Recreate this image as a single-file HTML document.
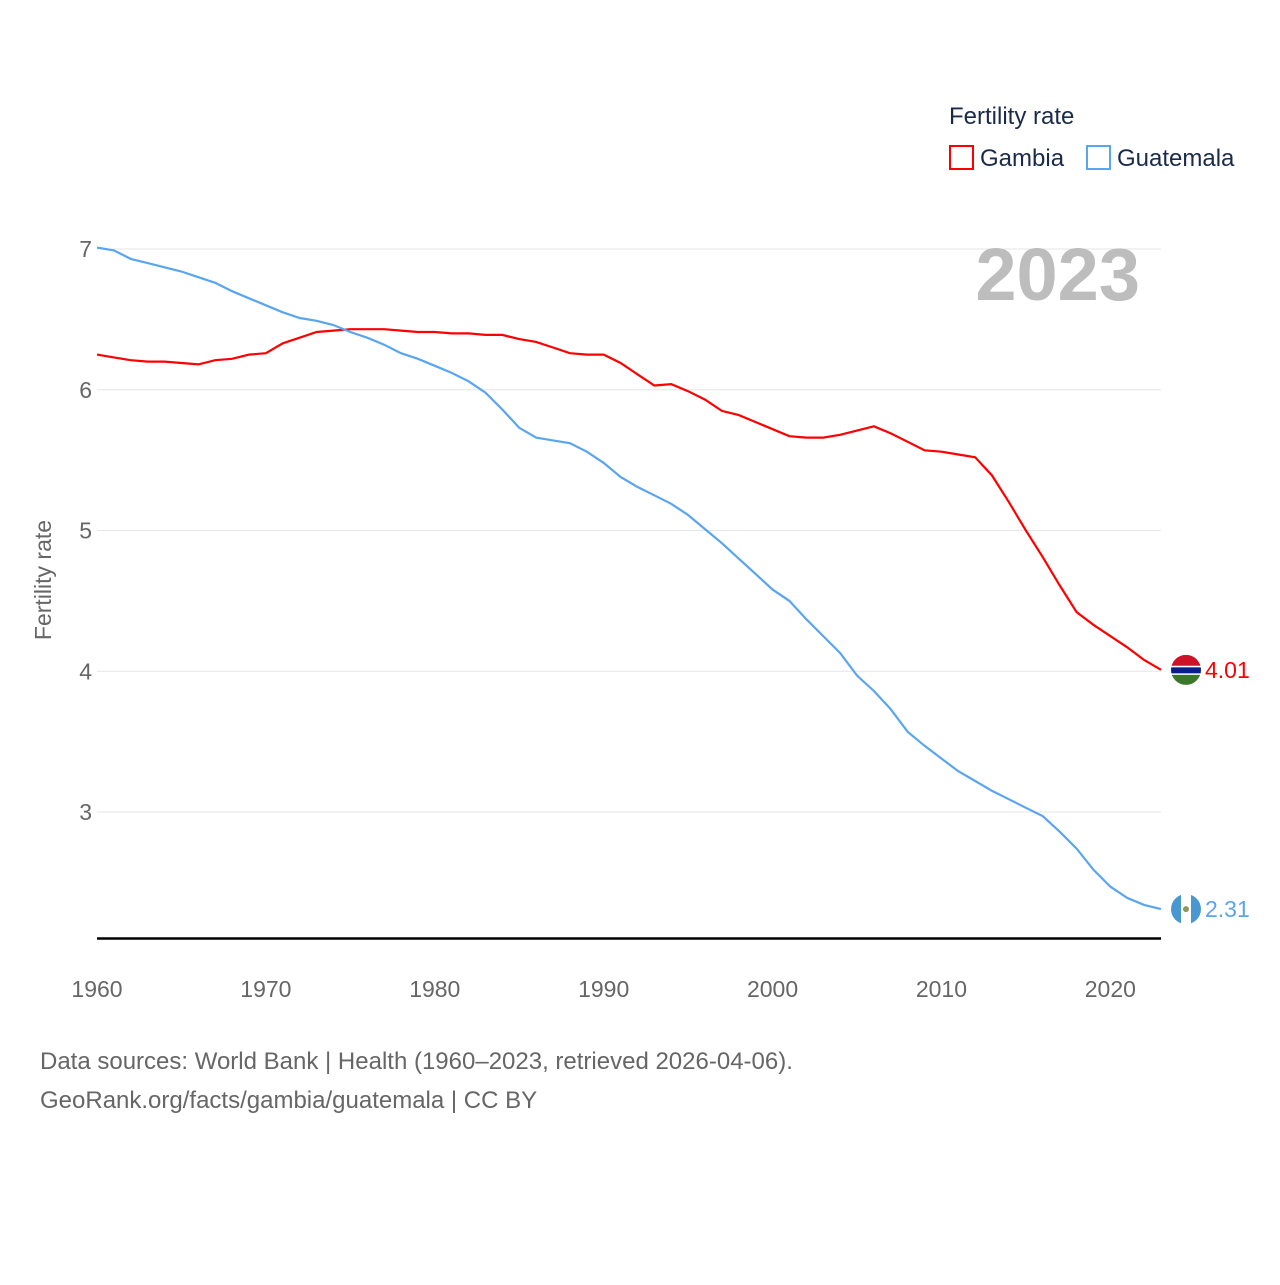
<!DOCTYPE html>
<html><head><meta charset="utf-8"><style>
body{margin:0;background:#fff;font-family:"Liberation Sans",sans-serif}
svg text{font-family:"Liberation Sans",sans-serif}
</style></head><body>
<svg id="chart" width="1280" height="1280" viewBox="0 0 1280 1280">
<defs>
<clipPath id="c1"><circle id="c1c" cx="1186" cy="0" r="15"/></clipPath>
<clipPath id="c2"><circle id="c2c" cx="1186" cy="0" r="15"/></clipPath>
</defs>
<g id="grid"></g>
<g id="yticks"></g>
<g id="xticks"></g>
<line x1="97" y1="938.5" x2="1161" y2="938.5" stroke="#000" stroke-width="2.5"/>
<text x="1140" y="300" text-anchor="end" font-size="74" font-weight="bold" fill="#bdbdbd">2023</text>
<text transform="translate(51,580) rotate(-90)" text-anchor="middle" font-size="23" fill="#666">Fertility rate</text>
<g>
<text x="949" y="124" font-size="24" fill="#1a2a4a">Fertility rate</text>
<rect x="950" y="146" width="23" height="23" fill="none" stroke="#f00" stroke-width="2"/>
<text x="980" y="166" font-size="24" fill="#1a2a4a">Gambia</text>
<rect x="1087" y="146" width="23" height="23" fill="none" stroke="#5aa5f0" stroke-width="2"/>
<text x="1117" y="166" font-size="24" fill="#1a2a4a">Guatemala</text>
</g>
<g id="series"></g>
<text x="40" y="1069" font-size="24" fill="#666">Data sources: World Bank | Health (1960–2023, retrieved 2026-04-06).</text>
<text x="40" y="1108" font-size="24" fill="#666">GeoRank.org/facts/gambia/guatemala | CC BY</text>
</svg>
<script>
const years=[];for(let y=1960;y<=2023;y++)years.push(y);
const gambia=[6.25,6.23,6.21,6.20,6.20,6.19,6.18,6.21,6.22,6.25,6.26,6.33,6.37,6.41,6.42,6.43,6.43,6.43,6.42,6.41,6.41,6.40,6.40,6.39,6.39,6.36,6.34,6.30,6.26,6.25,6.25,6.19,6.11,6.03,6.04,5.99,5.93,5.85,5.82,5.77,5.72,5.67,5.66,5.66,5.68,5.71,5.74,5.69,5.63,5.57,5.56,5.54,5.52,5.39,5.20,5.00,4.81,4.61,4.42,4.33,4.25,4.17,4.08,4.01];
const guatemala=[7.01,6.99,6.93,6.90,6.87,6.84,6.80,6.76,6.70,6.65,6.60,6.55,6.51,6.49,6.46,6.41,6.37,6.32,6.26,6.22,6.17,6.12,6.06,5.98,5.86,5.73,5.66,5.64,5.62,5.56,5.48,5.38,5.31,5.25,5.19,5.11,5.01,4.91,4.80,4.69,4.58,4.50,4.37,4.25,4.13,3.97,3.86,3.73,3.57,3.47,3.38,3.29,3.22,3.15,3.09,3.03,2.97,2.86,2.74,2.59,2.47,2.39,2.34,2.31];
const yTicks=[3,4,5,6,7];
const xTicks=[1960,1970,1980,1990,2000,2010,2020];
const NS="http://www.w3.org/2000/svg";
const X=y=>97+(y-1960)*(1064/63);
const Y=v=>249+(7-v)*140.75;
function mk(tag,attrs,parent){const e=document.createElementNS(NS,tag);for(const k in attrs)e.setAttribute(k,attrs[k]);parent.appendChild(e);return e;}
const grid=document.getElementById('grid'),yt=document.getElementById('yticks'),xt=document.getElementById('xticks'),ser=document.getElementById('series');
yTicks.forEach(v=>{
 const l=mk('line',{x1:97,x2:1161,y1:Y(v),y2:Y(v),stroke:'#e6e6e6','stroke-width':1},grid);
 
 
 const t=mk('text',{x:92,y:Y(v)+8,'text-anchor':'end','font-size':23,fill:'#666'},yt);
 t.textContent=v;
 
 
});
xTicks.forEach(v=>{
 const t=mk('text',{x:X(v),y:997,'text-anchor':'middle','font-size':23,fill:'#666'},xt);
 t.textContent=v;
 
 
});
function line(data,color,name){
 const p=mk('path',{d:data.map((v,i)=>(i?'L':'M')+X(years[i]).toFixed(1)+','+Y(v).toFixed(1)).join(''),fill:'none',stroke:color,'stroke-width':2.2},ser);
 
 
}
line(gambia,'#f00','gambia-line');
line(guatemala,'#5aa5f0','guatemala-line');
const gy=Y(gambia[gambia.length-1]),uy=Y(guatemala[guatemala.length-1]);
document.getElementById('c1c').setAttribute('cy',gy);
document.getElementById('c2c').setAttribute('cy',uy);
const gm=mk('g',{'clip-path':'url(#c1)'},ser);


mk('rect',{x:1171,y:gy-15,width:30,height:11,fill:'#ce1126'},gm);
mk('rect',{x:1171,y:gy-4,width:30,height:9,fill:'#fff'},gm);
mk('rect',{x:1171,y:gy-2.5,width:30,height:6,fill:'#0c1c8c'},gm);
mk('rect',{x:1171,y:gy+5,width:30,height:11,fill:'#3a7728'},gm);
const gl=mk('text',{x:1205,y:gy+8,'font-size':23,fill:'#f00'},ser);gl.textContent=gambia[gambia.length-1].toFixed(2);


const um=mk('g',{'clip-path':'url(#c2)'},ser);


mk('rect',{x:1171,y:uy-15,width:30,height:30,fill:'#fff'},um);
mk('rect',{x:1171,y:uy-15,width:10,height:30,fill:'#4997d0'},um);
mk('rect',{x:1191,y:uy-15,width:10,height:30,fill:'#4997d0'},um);
mk('circle',{cx:1186,cy:uy,r:3,fill:'#8a9a5b'},um);
const ul=mk('text',{x:1205,y:uy+8,'font-size':23,fill:'#5aa5f0'},ser);ul.textContent=guatemala[guatemala.length-1].toFixed(2);


</script>
</body></html>
